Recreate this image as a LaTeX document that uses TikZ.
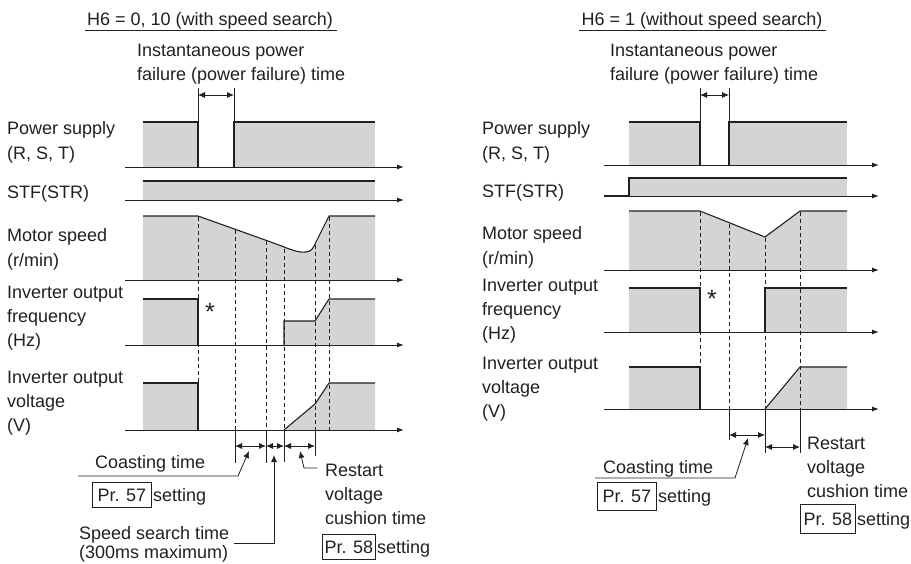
\documentclass[tikz,border=0pt]{standalone}
\usepackage{fontspec}
\setmainfont{Liberation Sans}
\usetikzlibrary{arrows.meta}
\definecolor{wg}{gray}{0.83}
\definecolor{ink}{rgb}{0.14,0.12,0.12}
\begin{document}
\begin{tikzpicture}[x=1pt,y=-1pt,
  lbl/.style={anchor=base west, inner sep=0pt, text=ink, font=\fontsize{18}{22}\selectfont},
  ttl/.style={lbl, anchor=base},
  star/.style={anchor=base, inner sep=0pt, text=ink, font=\fontsize{25}{25}\selectfont},
  prbox/.style={draw=ink, line width=0.8pt, inner sep=0pt, anchor=north west, text=ink, font=\fontsize{18}{22}\selectfont},
  wave/.style={draw=ink, line width=1.1pt, line join=miter},
  shade/.style={fill=wg},
  axis/.style={draw=ink, line width=1pt, -{Latex[length=7pt,width=5pt]}},
  dline/.style={draw=ink, line width=0.8pt, dash pattern=on 4pt off 3pt},
  ext/.style={draw=ink, line width=0.8pt},
  dim/.style={draw=ink, line width=0.8pt, {Latex[length=7pt,width=6pt]}-{Latex[length=7pt,width=6pt]}},
  lead/.style={draw=ink, line width=0.8pt, -{Latex[length=7pt,width=6pt]}},
  uline/.style={draw=ink, line width=0.8pt}
]
\useasboundingbox (0,0) rectangle (911,563);

%================ LEFT PANEL =================
\node[ttl] (lt) at (210,25) {H6 = 0, 10 (with speed search)};
\draw[uline] (85,30) -- (337,30);
\node[lbl] (lif1) at (137,56) {Instantaneous power};
\node[lbl] (lif2) at (137,80) {failure (power failure) time};

\node[lbl] (lps1) at (7,134) {Power supply};
\node[lbl] (lps2) at (7,159) {(R, S, T)};
\node[lbl] (lstf) at (7,198) {STF(STR)};
\node[lbl] (lms1) at (7,241) {Motor speed};
\node[lbl] (lms2) at (7,266) {(r/min)};
\node[lbl] (lfq1) at (7,298) {Inverter output};
\node[lbl] (lfq2) at (7,322) {frequency};
\node[lbl] (lfq3) at (7,346) {(Hz)};
\node[lbl] (lv1) at (7,383) {Inverter output};
\node[lbl] (lv2) at (7,407) {voltage};
\node[lbl] (lv3) at (7,431) {(V)};

% power supply
\fill[shade] (143,122) rectangle (198,167);
\fill[shade] (234,122) rectangle (375,167);
\draw[wave] (143,122) -- (198,122) -- (198,167);
\draw[wave] (234,167) -- (234,122) -- (375,122);
\draw[axis] (125,167) -- (404,167);
\draw[ext] (198,88) -- (198,122);
\draw[ext] (234,88) -- (234,122);
\draw[dim] (198,95) -- (234,95);

% STF
\fill[shade] (143,181) rectangle (375,200);
\draw[wave] (143,181) -- (375,181);
\draw[axis] (125,200) -- (404,200);

% motor speed
\fill[shade] (143,216) -- (198,216) -- (268,241) .. controls (288,248) and (296,253) .. (306,252)
  .. controls (310,251.5) and (312,250) .. (314,246) -- (329,216) -- (375,216) -- (375,280) -- (143,280) -- cycle;
\draw[wave] (143,216) -- (198,216) -- (268,241) .. controls (288,248) and (296,253) .. (306,252)
  .. controls (310,251.5) and (312,250) .. (314,246) -- (329,216) -- (375,216);
\draw[axis] (125,280) -- (404,280);

% frequency
\fill[shade] (143,299) rectangle (198,345);
\draw[wave] (143,299) -- (198,299) -- (198,345);
\fill[shade] (284,345) -- (284,321) -- (315,321) -- (329,299) -- (375,299) -- (375,345) -- cycle;
\draw[wave] (284,345) -- (284,321) -- (315,321) -- (329,299) -- (375,299);
\draw[axis] (125,345) -- (404,345);
\node[star] (lstar) at (210,320) {*};

% voltage
\fill[shade] (143,383) rectangle (198,430);
\draw[wave] (143,383) -- (198,383) -- (198,430);
\fill[shade] (284,430) -- (315,404) -- (329,383) -- (375,383) -- (375,430) -- cycle;
\draw[wave] (284,430) -- (315,404) -- (329,383) -- (375,383);
\draw[axis] (125,430) -- (404,430);

% dashed guides
\draw[dline] (198,217) -- (198,430);
\draw[dline] (235,230) -- (235,430);
\draw[dline] (266,241) -- (266,430);
\draw[dline] (284,249) -- (284,430);
\draw[dline] (315,245) -- (315,430);
\draw[dline] (329,217) -- (329,430);

% extension lines and dimensions
\draw[ext] (235,430) -- (235,463);
\draw[ext] (266,430) -- (266,463);
\draw[ext] (284,430) -- (284,462);
\draw[ext] (315,430) -- (315,456);
\coordinate (lc1) at (235,446);
\coordinate (lc2) at (266,446);
\coordinate (lc3) at (284,446);
\coordinate (lc4) at (315,446);
\draw[dim] (lc1) -- (lc2);
\draw[dim] (lc2) -- (lc3);
\draw[dim] (lc3) -- (lc4);

% coasting label
\node[lbl] (lcoast) at (95,468) {Coasting time};
\coordinate (lcoastL) at (78,476);
\coordinate (lcoastK) at (238,476);
\coordinate (lcoastT) at (249,451);
\draw[lead] (lcoastL) -- (lcoastK) -- (lcoastT);
\node[prbox, minimum width=59pt, minimum height=25pt] (lpr57) at (92,482) {Pr. 57};
\node[lbl] (lset57) at (153,501) {setting};

% speed search label
\node[lbl] (lss1) at (79,539) {Speed search time};
\node[lbl] (lss2) at (79,558) {(300ms maximum)};
\coordinate (lssK) at (274,543);
\coordinate (lssT) at (274,455);
\draw[lead] ([xshift=5pt,yshift=-4pt]lss1.base east) -- (lssK) -- (lssT);

% restart label
\node[lbl] (lrs1) at (325,476) {Restart};
\node[lbl] (lrs2) at (325,500) {voltage};
\node[lbl] (lrs3) at (325,524) {cushion time};
\node[prbox, minimum width=53pt, minimum height=25pt] (lpr58) at (322,534) {Pr. 58};
\node[lbl] (lset58) at (377,553) {setting};
\coordinate (lrsT) at (300,451);
\coordinate (lrsK) at (304,468);
\coordinate (lrsE) at (317,468);
\draw[lead] (lrsE) -- (lrsK) -- (lrsT);

%================ RIGHT PANEL =================
\node[ttl] (rt) at (702,25) {H6 = 1 (without speed search)};
\draw[uline] (579,30) -- (826,30);
\node[lbl] (rif1) at (610,56) {Instantaneous power};
\node[lbl] (rif2) at (610,80) {failure (power failure) time};

\node[lbl] (rps1) at (482,134) {Power supply};
\node[lbl] (rps2) at (482,159) {(R, S, T)};
\node[lbl] (rstf) at (482,197) {STF(STR)};
\node[lbl] (rms1) at (482,239) {Motor speed};
\node[lbl] (rms2) at (482,264) {(r/min)};
\node[lbl] (rfq1) at (482,291) {Inverter output};
\node[lbl] (rfq2) at (482,315) {frequency};
\node[lbl] (rfq3) at (482,339) {(Hz)};
\node[lbl] (rv1) at (482,369) {Inverter output};
\node[lbl] (rv2) at (482,393) {voltage};
\node[lbl] (rv3) at (482,417) {(V)};

% power supply
\fill[shade] (629,122) rectangle (700,165);
\fill[shade] (729,122) rectangle (847,165);
\draw[wave] (629,122) -- (700,122) -- (700,165);
\draw[wave] (729,165) -- (729,122) -- (847,122);
\draw[axis] (604,165) -- (879,165);
\draw[ext] (700,88) -- (700,122);
\draw[ext] (729,88) -- (729,122);
\draw[dim] (700,95) -- (729,95);

% STF
\fill[shade] (629,178) rectangle (847,196);
\draw[axis] (604,196) -- (879,196);
\draw[wave] (604,196) -- (629,196) -- (629,178) -- (847,178);

% motor speed
\fill[shade] (629,211) -- (700,211) -- (765,237) -- (800,211) -- (847,211) -- (847,270) -- (629,270) -- cycle;
\draw[wave] (629,211) -- (700,211) -- (765,237) -- (800,211) -- (847,211);
\draw[axis] (604,270) -- (879,270);

% frequency
\fill[shade] (629,288) rectangle (700,332);
\draw[wave] (629,288) -- (700,288) -- (700,332);
\fill[shade] (765,288) rectangle (847,332);
\draw[wave] (765,332) -- (765,288) -- (847,288);
\draw[axis] (604,332) -- (879,332);
\node[star] (rstar) at (712,307) {*};

% voltage
\fill[shade] (629,367) rectangle (700,409);
\draw[wave] (629,367) -- (700,367) -- (700,409);
\fill[shade] (765,409) -- (800,367) -- (847,367) -- (847,409) -- cycle;
\draw[wave] (765,409) -- (800,367) -- (847,367);
\draw[axis] (604,409) -- (879,409);

% dashed guides
\draw[dline] (700,212) -- (700,409);
\draw[dline] (729,224) -- (729,409);
\draw[dline] (765,238) -- (765,409);
\draw[dline] (800,212) -- (800,409);

% extensions and dimensions
\draw[ext] (729,409) -- (729,440);
\draw[ext] (765,409) -- (765,453);
\draw[ext] (800,409) -- (800,453);
\coordinate (rc1) at (729,435);
\coordinate (rc2) at (765,435);
\coordinate (rc3) at (765,447);
\coordinate (rc4) at (800,447);
\draw[dim] (rc1) -- (rc2);
\draw[dim] (rc3) -- (rc4);

% coasting label
\node[lbl] (rcoast) at (603,473) {Coasting time};
\coordinate (rcoastL) at (595,478);
\coordinate (rcoastK) at (735,478);
\coordinate (rcoastT) at (748,438);
\draw[lead] (rcoastL) -- (rcoastK) -- (rcoastT);
\node[prbox, minimum width=59pt, minimum height=28pt] (rpr57) at (597,482) {Pr. 57};
\node[lbl] (rset57) at (658,502) {setting};

% restart label
\node[lbl] (rrs1) at (807,449) {Restart};
\node[lbl] (rrs2) at (807,473) {voltage};
\node[lbl] (rrs3) at (807,497) {cushion time};
\node[prbox, minimum width=55pt, minimum height=29pt] (rpr58) at (800,504) {Pr. 58};
\node[lbl] (rset58) at (857,525) {setting};
\end{tikzpicture}
\end{document}
